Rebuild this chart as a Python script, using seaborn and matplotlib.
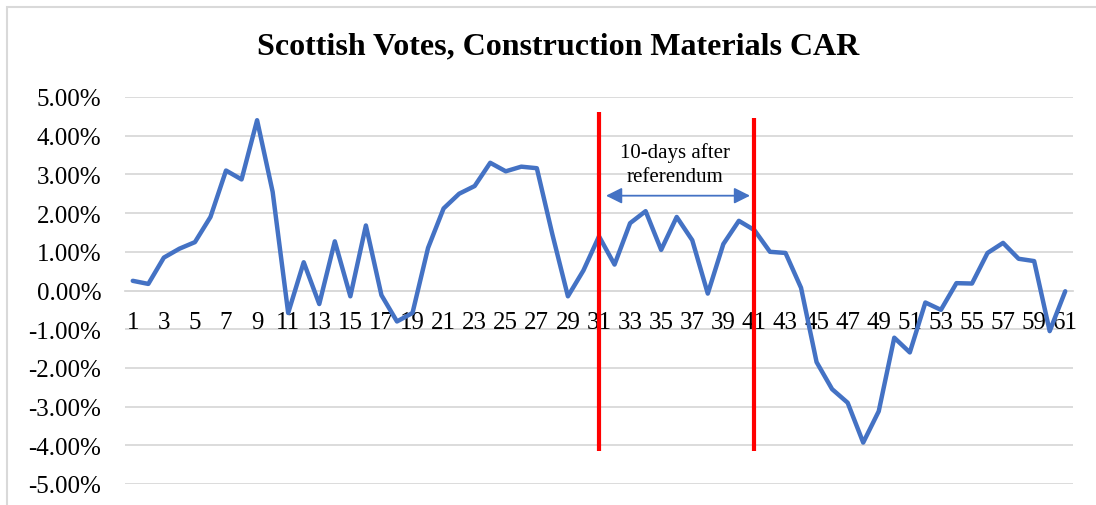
import matplotlib
matplotlib.use("Agg")
import matplotlib.pyplot as plt
from matplotlib.patches import Rectangle
from matplotlib.ticker import FuncFormatter
import seaborn as sns
import pandas as pd

# Event window (trading days) and cumulative abnormal returns, in percent
days = list(range(1, 62))
car_pct = [
    0.25, 0.17, 0.85, 1.08, 1.25, 1.90, 3.10, 2.87, 4.40, 2.55,
    -0.58, 0.73, -0.35, 1.27, -0.15, 1.68, -0.12, -0.80, -0.58, 1.10,
    2.12, 2.50, 2.70, 3.30, 3.08, 3.20, 3.16, 1.45, -0.15, 0.52,
    1.40, 0.67, 1.74, 2.05, 1.05, 1.90, 1.30, -0.08, 1.20, 1.80,
    1.56, 1.00, 0.97, 0.07, -1.85, -2.55, -2.90, -3.93, -3.12, -1.22,
    -1.60, -0.31, -0.50, 0.19, 0.18, 0.97, 1.23, 0.82, 0.76, -1.05,
    -0.02,
]
event_days = [31, 41]
event_tops = [4.60, 4.47]
event_bottoms = [-4.15, -4.15]
y_ticks = [5, 4, 3, 2, 1, 0, -1, -2, -3, -4, -5]
window_label = "10-days after\nreferendum"
title = "Scottish Votes, Construction Materials CAR"

df = pd.DataFrame({"day": days, "car": car_pct})

sns.set_theme(style="white")
plt.rcParams["font.family"] = ["Liberation Serif", "DejaVu Serif"]

fig = plt.figure(figsize=(10.96, 5.06), dpi=100)
ax = fig.add_axes([125 / 1096, 1 - 485 / 506, (1073 - 125) / 1096, (485 - 98) / 506])

grid_color = "#D9D9D9"
for t in y_ticks:
    ax.axhline(t, color=grid_color, lw=1.3, zorder=0)

sns.lineplot(data=df, x="day", y="car", ax=ax, color="#4472C4", lw=3.2,
             solid_joinstyle="round", solid_capstyle="round", zorder=3)

ax.vlines(event_days, event_bottoms, event_tops, colors="#FF0000", lw=3.0, zorder=4)

ax.annotate("", xy=(40.72, 2.45), xytext=(31.45, 2.45),
            arrowprops=dict(arrowstyle="<|-|>", color="#4472C4", lw=1.3,
                            mutation_scale=24, shrinkA=0, shrinkB=0))
ax.text(35.9, 3.27, window_label, ha="center", va="center", fontsize=15,
        linespacing=1.3, color="black")

ax.set_xlim(0.5, 61.5)
ax.set_ylim(-5, 5)
ax.set_yticks(y_ticks)
ax.yaxis.set_major_formatter(FuncFormatter(lambda v, _: f"{v:.2f}%"))
ax.set_xticks(days[::2])
ax.set_xticklabels([str(d) for d in days[::2]])
ax.set_xlabel("")
ax.set_ylabel("")

for side in ["top", "right", "left"]:
    ax.spines[side].set_visible(False)
ax.spines["bottom"].set_position(("data", 0))
ax.spines["bottom"].set_color(grid_color)
ax.spines["bottom"].set_linewidth(1.3)

ax.tick_params(axis="y", length=0, pad=17, labelsize=18, labelcolor="black")
ax.tick_params(axis="x", length=0, pad=15, labelsize=18, labelcolor="black")

fig.text(558 / 1096, 1 - 47 / 506, title, ha="center", va="center",
         fontsize=23, fontweight="bold", color="black")

fig.patches.append(Rectangle((7 / 1096, -0.1), 1.2, 1.1 - 8 / 506,
                             transform=fig.transFigure, fill=False,
                             edgecolor=grid_color, lw=1.5, clip_on=False))

fig.savefig("out.png", dpi=100, facecolor="white")
